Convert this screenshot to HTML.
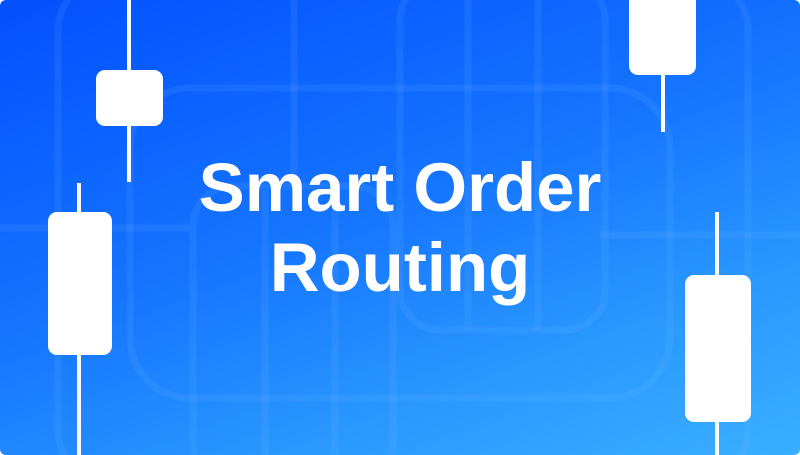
<!DOCTYPE html>
<html><head><style>
html,body{margin:0;padding:0;overflow:hidden;}
body{width:800px;height:455px;overflow:hidden;}
.c{position:relative;width:800px;height:455px;border-radius:6px;overflow:hidden;
background:linear-gradient(160deg,#0350ff 0%,#1474ff 45%,#2a98ff 75%,#3aafff 100%);}
.t{position:absolute;left:0;width:800px;text-align:center;color:#fff;font-family:"Liberation Sans",sans-serif;font-weight:bold;font-size:69px;line-height:1;letter-spacing:0px;}
.w{position:absolute;background:#fff;width:4px;}
.b{position:absolute;background:#fff;border-radius:9px;}
</style></head><body><div class="c">
<svg width="800" height="455" style="position:absolute;left:0;top:0" fill="none" stroke="rgba(120,190,255,0.12)" stroke-width="7">
<rect x="58" y="-20" width="690" height="500" rx="50"/>
<rect x="130" y="88" width="540" height="310" rx="60"/>
<rect x="193" y="186" width="200" height="300" rx="40"/>
<rect x="400" y="-20" width="205" height="350" rx="40"/>
<line x1="0" y1="228" x2="190" y2="228"/>
<line x1="600" y1="235" x2="800" y2="235"/>
<line x1="294" y1="0" x2="294" y2="180"/>
<line x1="265" y1="190" x2="265" y2="455"/>
<line x1="335" y1="190" x2="335" y2="455"/>
<line x1="468" y1="0" x2="468" y2="330"/>
<line x1="538" y1="0" x2="538" y2="330"/>
</svg>
<div class="w" style="left:127px;top:0;height:182px"></div>
<div class="b" style="left:96px;top:70px;width:67px;height:56px"></div>
<div class="w" style="left:77px;top:183px;height:272px"></div>
<div class="b" style="left:48px;top:212px;width:64px;height:143px"></div>
<div class="w" style="left:661px;top:0;height:132px"></div>
<div class="b" style="left:629px;top:-10px;width:67px;height:85px"></div>
<div class="w" style="left:715px;top:212px;height:243px"></div>
<div class="b" style="left:685px;top:275px;width:66px;height:147px"></div>
<div class="t" style="top:153px">Smart Order</div>
<div class="t" style="top:233px">Routing</div>
</div></body></html>
